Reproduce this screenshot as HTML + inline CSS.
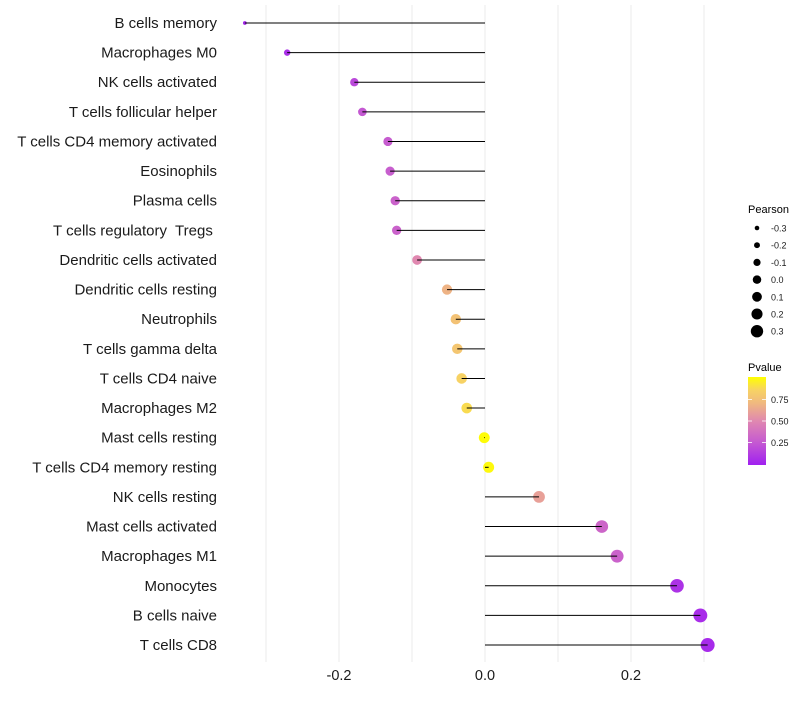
<!DOCTYPE html>
<html><head><meta charset="utf-8"><style>
body{margin:0;background:#fff;font-family:"Liberation Sans",sans-serif}
</style></head><body>
<svg id="chart" width="800" height="700" xmlns="http://www.w3.org/2000/svg" font-family="Liberation Sans, sans-serif"></svg>
<script>
const categories=["B cells memory","Macrophages M0","NK cells activated","T cells follicular helper","T cells CD4 memory activated","Eosinophils","Plasma cells","T cells regulatory  Tregs ","Dendritic cells activated","Dendritic cells resting","Neutrophils","T cells gamma delta","T cells CD4 naive","Macrophages M2","Mast cells resting","T cells CD4 memory resting","NK cells resting","Mast cells activated","Macrophages M1","Monocytes","B cells naive","T cells CD8"];
const pearson=[-0.329,-0.271,-0.179,-0.168,-0.133,-0.130,-0.123,-0.121,-0.093,-0.052,-0.040,-0.038,-0.032,-0.025,-0.001,0.005,0.074,0.160,0.181,0.263,0.295,0.305];
const pvalue=[0.03,0.07,0.18,0.25,0.27,0.28,0.30,0.30,0.50,0.68,0.76,0.78,0.85,0.88,0.99,0.98,0.60,0.32,0.30,0.08,0.06,0.05];
const xTicks=[-0.2,0,0.2];
const xTickLabels=["-0.2","0.0","0.2"];
const xGrid=[-0.3,-0.2,-0.1,0,0.1,0.2,0.3];
const sizeLegend=[-0.3,-0.2,-0.1,0.0,0.1,0.2,0.3];
const colorTicks=[0.25,0.5,0.75];

const svg=document.getElementById('chart');
const NS="http://www.w3.org/2000/svg";
const xs=v=>485+v*730;
const ys=i=>23+i*29.62;
const rs=v=>1.5+5.5*Math.sqrt(Math.max(0,(v+0.332)/0.637));
const stops=[[0,[160,32,240]],[0.25,[196,88,210]],[0.5,[224,136,176]],[0.7,[240,184,128]],[0.85,[247,210,100]],[1,[255,255,0]]];
function col(p){for(let k=1;k<stops.length;k++){if(p<=stops[k][0]){const a=stops[k-1],b=stops[k];const t=(p-a[0])/(b[0]-a[0]);const c=a[1].map((v,j)=>Math.round(v+(b[1][j]-v)*t));return `rgb(${c})`;}}return 'rgb(255,255,0)';}
function el(tag,attrs,parent){const e=document.createElementNS(NS,tag);for(const k in attrs)e.setAttribute(k,attrs[k]);(parent||svg).appendChild(e);return e;}

xGrid.forEach(v=>{const g=el('line',{x1:xs(v),x2:xs(v),y1:5,y2:662,stroke:'#ebebeb','stroke-width':1});

});

xTicks.forEach((v,i)=>{const t=el('text',{x:xs(v),y:680,'text-anchor':'middle','font-size':14.5,fill:'#1a1a1a'});t.textContent=xTickLabels[i];

});

categories.forEach((c,i)=>{
const t=el('text',{x:217,y:ys(i)+5,'text-anchor':'end','font-size':15,fill:'#1a1a1a','xml:space':'preserve',style:'white-space:pre'});t.textContent=c;


const d=el('circle',{cx:xs(pearson[i]),cy:ys(i),r:rs(pearson[i]),fill:col(pvalue[i])});


const l=el('line',{x1:xs(0),x2:xs(pearson[i]),y1:ys(i),y2:ys(i),stroke:'#000','stroke-width':1});


});

const lg=el('g',{});


const lt=el('text',{x:748,y:213,'font-size':11,fill:'#000'},lg);lt.textContent='Pearson';
sizeLegend.forEach((v,i)=>{const y=228+i*17.2;
const c=el('circle',{cx:757,cy:y,r:2.3+i*0.65,fill:'#000'},lg);


const t=el('text',{x:771,y:y+3.5,'font-size':9,fill:'#1a1a1a'},lg);t.textContent=v.toFixed(1);});

const cg=el('g',{});


const ct=el('text',{x:748,y:371,'font-size':11,fill:'#000'},cg);ct.textContent='Pvalue';
const defs=el('defs',{});
const grad=el('linearGradient',{id:'pg',x1:0,y1:1,x2:0,y2:0},defs);
stops.forEach(s=>el('stop',{offset:s[0],'stop-color':col(s[0])},grad));
const bar=el('rect',{x:748,y:377,width:18,height:88,fill:'url(#pg)'},cg);


colorTicks.forEach(v=>{const y=464-v*86;
el('line',{x1:748,x2:752,y1:y,y2:y,stroke:'#fff','stroke-width':0.8},cg);
el('line',{x1:762,x2:766,y1:y,y2:y,stroke:'#fff','stroke-width':0.8},cg);
const t=el('text',{x:771,y:y+3.5,'font-size':9,fill:'#1a1a1a'},cg);t.textContent=v.toFixed(2);});
</script>
</body></html>
